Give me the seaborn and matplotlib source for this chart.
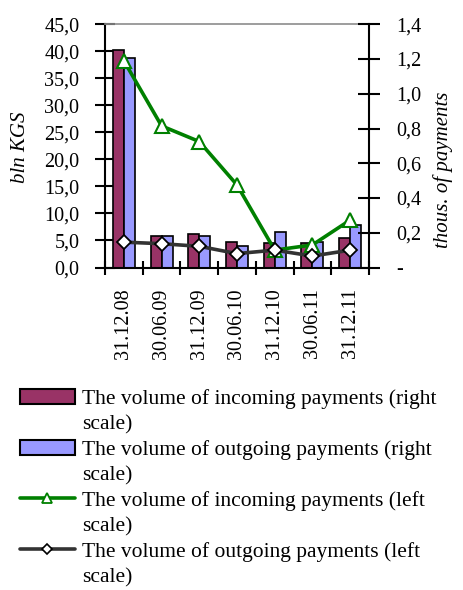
import numpy as np
import pandas as pd
import matplotlib
matplotlib.use("Agg")
import matplotlib.pyplot as plt
import seaborn as sns
from matplotlib.patches import Patch
from matplotlib.lines import Line2D
from matplotlib.ticker import FixedLocator, FuncFormatter

# Reporting dates
dates = ["31.12.08", "30.06.09", "31.12.09", "30.06.10", "31.12.10", "30.06.11", "31.12.11"]

# Payment volumes, bln KGS (bars)
incoming_bln = [40.2, 5.8, 6.2, 4.8, 4.5, 4.6, 5.5]
outgoing_bln = [38.8, 5.8, 5.8, 4.0, 6.6, 4.8, 7.8]

# Number of payments, thousands (lines)
incoming_thous = [1.19, 0.815, 0.725, 0.475, 0.10, 0.13, 0.273]
outgoing_thous = [0.146, 0.137, 0.122, 0.080, 0.100, 0.066, 0.100]

series_labels = [
    "The volume of incoming payments (right\nscale)",
    "The volume of outgoing payments (right\nscale)",
    "The volume of incoming payments (left\nscale)",
    "The volume of outgoing payments (left\nscale)",
]

left_ticks = [0, 5, 10, 15, 20, 25, 30, 35, 40, 45]
right_ticks = [0, 0.2, 0.4, 0.6, 0.8, 1.0, 1.2, 1.4]

C_IN = "#993366"
C_OUT = "#9999FF"
C_GREEN = "#008000"
C_DARK = "#333333"

sns.set_style("white")
plt.rcParams["font.family"] = ["Liberation Serif", "DejaVu Serif"]
plt.rcParams.update({
    "text.color": "black",
    "axes.labelcolor": "black",
    "xtick.color": "black",
    "ytick.color": "black",
})

fig = plt.figure(figsize=(4.64, 5.90), dpi=100)
ax = fig.add_axes([105 / 464, 1 - 267.5 / 590, 264 / 464, 243.2 / 590])

bars = pd.DataFrame({
    "date": dates * 2,
    "series": ["in"] * len(dates) + ["out"] * len(dates),
    "value": incoming_bln + outgoing_bln,
})
sns.barplot(data=bars, x="date", y="value", hue="series", palette=[C_IN, C_OUT],
            width=0.58, saturation=1, edgecolor="black", linewidth=1.2,
            legend=False, ax=ax)

ax2 = ax.twinx()
xs = np.arange(len(dates))
sns.lineplot(x=xs, y=incoming_thous, ax=ax2, color=C_GREEN, linewidth=2.6,
             marker="^", markersize=10, markerfacecolor="white",
             markeredgecolor=C_GREEN, markeredgewidth=1.5)
sns.lineplot(x=xs, y=outgoing_thous, ax=ax2, color=C_DARK, linewidth=2.6,
             marker="D", markersize=7, markerfacecolor="white",
             markeredgecolor="black", markeredgewidth=1.3)

# Axes limits
ax.set_xlim(-0.5, len(dates) - 0.5)
ax.set_ylim(0, 45)
ax2.set_ylim(0, 1.4)

# Left scale
ax.yaxis.set_major_locator(FixedLocator(left_ticks))
ax.yaxis.set_major_formatter(FuncFormatter(lambda v, p: f"{v:.1f}".replace(".", ",")))
ax.tick_params(axis="y", direction="inout", length=14, width=1.5, pad=11.5,
               labelsize=14.5, left=True, colors="black")

# Right scale
ax2.yaxis.set_major_locator(FixedLocator(right_ticks))
ax2.yaxis.set_major_formatter(FuncFormatter(
    lambda v, p: "-" if abs(v) < 1e-9 else f"{v:.1f}".replace(".", ",")))
ax2.tick_params(axis="y", direction="inout", length=16, width=1.5, pad=11.5,
                labelsize=14.5, right=True, colors="black")

# Category axis: labels at centres, crossing ticks at boundaries
ax.set_xticks(xs)
ax.set_xticklabels(dates, rotation=90)
ax.tick_params(axis="x", which="major", length=0, pad=15, labelsize=14.5, colors="black")
ax.set_xticks(np.arange(-0.5, len(dates)), minor=True)
ax.tick_params(axis="x", which="minor", direction="inout", length=10, width=1.5,
               bottom=True, colors="black")

ax.set_xlabel("")
ax.set_ylabel("bln KGS", fontsize=15, fontstyle="italic", color="black")
ax.yaxis.set_label_coords((30 - 105) / 264, (267.5 - 147) / 243.2)
ax2.set_xlabel("")
ax2.set_ylabel("thous. of payments", fontsize=15, fontstyle="italic", color="black")
ax2.yaxis.set_label_coords((433 - 105) / 264, (267.5 - 170) / 243.2)

# Frame
for a in (ax, ax2):
    for s in a.spines.values():
        s.set_visible(False)
ax.spines["left"].set_visible(True)
ax.spines["left"].set_color("black")
ax.spines["left"].set_linewidth(1.5)
ax.spines["bottom"].set_visible(True)
ax.spines["bottom"].set_color("black")
ax.spines["bottom"].set_linewidth(1.5)
ax.spines["top"].set_visible(True)
ax.spines["top"].set_color("#8c8c8c")
ax.spines["top"].set_linewidth(1.2)
ax2.spines["right"].set_visible(True)
ax2.spines["right"].set_color("black")
ax2.spines["right"].set_linewidth(1.5)
ax.grid(False)
ax2.grid(False)

# Legend below the plot
handles = [
    Patch(facecolor=C_IN, edgecolor="black", linewidth=1.5),
    Patch(facecolor=C_OUT, edgecolor="black", linewidth=1.5),
    Line2D([], [], color=C_GREEN, linewidth=2.6, marker="^", markersize=7,
           markerfacecolor="white", markeredgecolor=C_GREEN, markeredgewidth=1.3),
    Line2D([], [], color=C_DARK, linewidth=2.6, marker="D", markersize=5,
           markerfacecolor="white", markeredgecolor="black", markeredgewidth=1.2),
]
leg = fig.legend(handles, series_labels, loc="upper left",
                 bbox_to_anchor=(20 / 464, 1 - 389 / 590), bbox_transform=fig.transFigure,
                 frameon=False, fontsize=15.5, borderpad=0, borderaxespad=0,
                 handlelength=2.55, handleheight=0.66, handletextpad=0.33,
                 labelspacing=0.28)
for t in leg.get_texts():
    t.set_linespacing(1.41)
    t.set_color("black")
for col in leg._legend_handle_box.get_children():
    for item in col.get_children():
        item.align = "top"

fig.savefig("out.png", dpi=100)
